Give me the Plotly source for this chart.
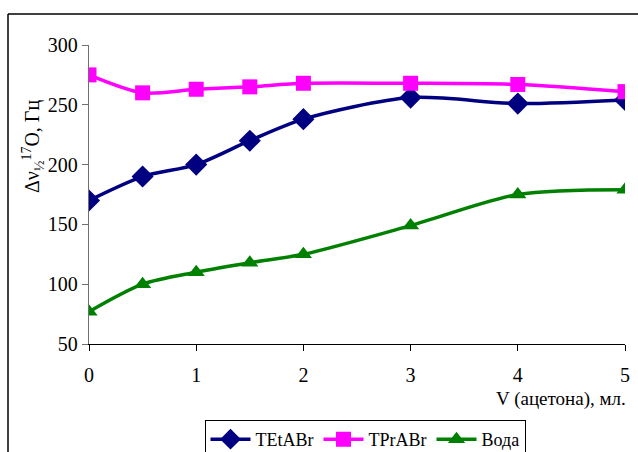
import plotly.graph_objects as go

# Volume of acetone added, ml
volume = [0, 0.5, 1, 1.5, 2, 3, 4, 5]

# Line width of the 17O NMR signal, Hz
tetabr = [170, 190, 200, 220, 238, 256, 251, 254]
tprabr = [275, 260, 263, 265, 268, 268, 267, 261]
voda = [77, 100, 110, 118, 125, 149, 175, 179]

series_names = ["TEtABr", "TPrABr", "Вода"]
series_colors = ["#000080", "#FF00FF", "#008000"]
series_symbols = ["diamond", "square", "triangle-up"]

x_ticks = [0, 1, 2, 3, 4, 5]
y_ticks = [50, 100, 150, 200, 250, 300]

W, H = 638, 452
L, R, T, B = 89, 13, 45, 108
PW, PH = W - L - R, H - T - B

fig = go.Figure()
for name, ys, col, sym in zip(series_names, [tetabr, tprabr, voda],
                              series_colors, series_symbols):
    fig.add_trace(go.Scatter(
        x=volume, y=ys, name=name, mode="lines+markers",
        line=dict(color=col, width=3.5, shape="spline", smoothing=0.8),
        marker=dict(symbol=sym, size=15 if sym != "diamond" else 17, color=col),
    ))

font_family = "Liberation Serif, Times New Roman, serif"

fig.update_layout(
    width=W, height=H,
    margin=dict(l=L, r=R, t=T, b=B, autoexpand=False),
    paper_bgcolor="white", plot_bgcolor="white",
    font=dict(family=font_family, size=20, color="black"),
    showlegend=True,
    legend=dict(
        orientation="h", xref="container", yref="container",
        x=365 / W, xanchor="center", y=1 - 420 / H, yanchor="top",
        bordercolor="black", borderwidth=1, font=dict(size=18),
        itemwidth=40, tracegroupgap=0,
    ),
    xaxis=dict(
        range=[0, 5], tickvals=x_ticks, showgrid=False, zeroline=False,
        showline=True, linecolor="black", linewidth=1.3,
        ticks="outside", ticklen=6, tickcolor="black",
        ticklabelstandoff=7,
    ),
    yaxis=dict(
        range=[50, 300], tickvals=y_ticks, showgrid=False, zeroline=False,
        showline=True, linecolor="#707070", linewidth=1.3,
        ticks="outside", ticklen=6, tickcolor="#707070",
    ),
)

# Axis titles
fig.add_annotation(
    text="V (ацетона), мл.", xref="paper", yref="paper",
    x=(628 - L) / PW, y=(H - B - 386) / PH, xanchor="right", yanchor="top",
    showarrow=False, font=dict(size=19),
)
fig.add_annotation(
    text="Δν<sub>½</sub><sup>17</sup>O, Гц", xref="paper", yref="paper",
    x=(33 - L) / PW, y=(H - B - 147) / PH, xanchor="center", yanchor="middle",
    textangle=-90, showarrow=False, font=dict(size=20),
)

# Frame around the chart area (left and top edges)
fx0 = (8 - L) / PW
fx1 = (W - L) / PW
fy_top = (H - B - 14) / PH
fy_bot = (H - B - H) / PH
fig.add_shape(type="line", xref="paper", yref="paper",
              x0=fx0, x1=fx0, y0=fy_bot, y1=fy_top,
              line=dict(color="black", width=1.5))
fig.add_shape(type="line", xref="paper", yref="paper",
              x0=fx0, x1=fx1, y0=fy_top, y1=fy_top,
              line=dict(color="black", width=1.5))

fig.write_html("out.html")
